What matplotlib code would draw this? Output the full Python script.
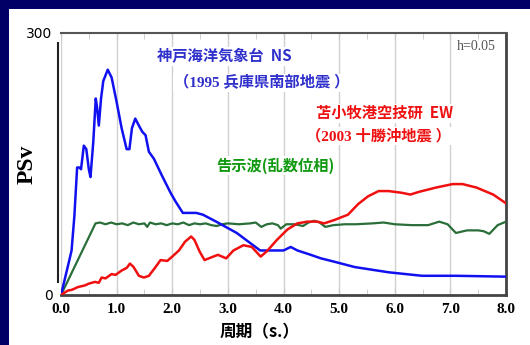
import matplotlib.pyplot as plt
from matplotlib.patches import Rectangle

# Kobe Marine Observatory NS (1995)
kobe_t = [0, 0.09, 0.15, 0.19, 0.24, 0.29, 0.33, 0.36, 0.41, 0.455, 0.50, 0.53, 0.58, 0.625,
          0.65, 0.68, 0.72, 0.76, 0.84, 0.91, 1.0, 1.09, 1.18, 1.23, 1.275, 1.335, 1.40, 1.46,
          1.52, 1.58, 1.67, 1.82, 1.97, 2.06, 2.19, 2.43, 2.55, 2.79, 3.16, 3.58, 3.76, 4.0,
          4.13, 4.25, 4.49, 4.67, 4.92, 5.28, 5.89, 6.49, 7.1, 8.0]
kobe_v = [0, 24, 40, 51, 90, 146, 146, 144, 171, 167, 144, 135, 175, 225,
          214, 194, 225, 245, 258, 249, 221, 191, 167, 167, 191, 202, 194, 187,
          183, 164, 156, 136, 117, 107, 94, 94, 92, 84, 71, 51, 51, 51,
          55, 51, 46, 42, 38, 32, 26, 22, 22, 21]

# Tomakomai EW (2003)
toma_t = [0, 0.12, 0.2, 0.3, 0.43, 0.5, 0.61, 0.68, 0.73, 0.8, 0.91, 0.98, 1.09, 1.18, 1.24,
          1.305, 1.40, 1.49, 1.58, 1.70, 1.79, 1.91, 2.0, 2.12, 2.23, 2.34, 2.40, 2.49,
          2.58, 2.70, 2.82, 2.97, 3.10, 3.28, 3.43, 3.59, 3.70, 3.88, 4.07, 4.25, 4.43,
          4.61, 4.73, 4.92, 5.16, 5.34, 5.52, 5.71, 5.89, 6.13, 6.28, 6.43, 6.74, 7.04,
          7.22, 7.47, 7.77, 8.0]
toma_v = [0, 5, 6, 9, 11, 13, 15, 14, 20, 19, 24, 23, 28, 31, 36,
          32, 22, 20, 22, 32, 40, 39, 44, 51, 61, 67, 63, 50,
          40, 43, 46, 42, 51, 57, 55, 44, 50, 63, 75, 82, 84,
          84, 82, 86, 92, 104, 113, 119, 119, 117, 115, 118, 123, 127,
          127, 123, 115, 105]

# Notification wave (random phase)
koji_t = [0, 0.62, 0.7, 0.8, 0.9, 1.0, 1.1, 1.2, 1.3, 1.4, 1.5, 1.55, 1.6, 1.7, 1.8, 1.9,
          2.0, 2.1, 2.2, 2.3, 2.4, 2.5, 2.6, 2.7, 2.8, 2.9, 3.0, 3.2, 3.4, 3.5, 3.6, 3.7,
          3.8, 3.9, 3.95, 4.05, 4.2, 4.35, 4.45, 4.55, 4.65, 4.75, 4.9, 5.1, 5.3, 5.6,
          5.8, 6.0, 6.3, 6.6, 6.8, 6.95, 7.1, 7.3, 7.5, 7.6, 7.7, 7.85, 8.0]
koji_v = [0, 82, 83, 81, 83, 81, 82, 80, 83, 81, 82, 78, 83, 81, 82, 80,
          82, 81, 83, 80, 82, 81, 82, 80, 79, 81, 82, 81, 82, 83, 78, 81,
          82, 80, 76, 81, 81, 79, 83, 85, 83, 78, 80, 81, 81, 82,
          83, 81, 80, 80, 84, 81, 71, 74, 74, 73, 70, 80, 84]

fig = plt.figure(figsize=(5.3, 3.45), dpi=100, facecolor='#000066')
fig.patches.append(Rectangle((9 / 530, 0), 1, 1 - 9 / 345, transform=fig.transFigure,
                             facecolor='white', edgecolor='none', zorder=-5))
ax = fig.add_axes([61 / 530, 50 / 345, 445 / 530, 262 / 345])
ax.set_facecolor('white')

ax.plot(kobe_t, kobe_v, color='#1010f0', lw=1.8, zorder=4)
ax.plot(toma_t, toma_v, color='#f01010', lw=1.8, zorder=4)
ax.plot(koji_t, koji_v, color='#2a6e3a', lw=1.6, zorder=3)

ax.set_xlim(0, 8)
ax.set_ylim(0, 300)
ax.set_xticks(range(9))
ax.set_xticklabels([f'{i}.0' for i in range(9)])
ax.set_xticks([i + 0.5 for i in range(8)], minor=True)
ax.set_yticks([0, 300])
ax.grid(True, axis='x', color='#d0d0d0', lw=1.0, zorder=1)

serif = {'family': 'Liberation Serif', 'weight': 'bold'}
for lab in ax.get_xticklabels() + ax.get_yticklabels():
    lab.set_fontfamily('Liberation Serif')
    lab.set_fontweight('bold')
    lab.set_fontsize(11)
ax.tick_params(axis='x', which='both', direction='in', top=True, color='#c8c8c8',
               length=4, pad=6)
ax.tick_params(axis='y', length=0, pad=4)

ax.spines['top'].set_color('#555555')
ax.spines['top'].set_linewidth(1.5)
for s in ('bottom', 'right'):
    ax.spines[s].set_color('#444444')
    ax.spines[s].set_linewidth(2)
ax.spines['left'].set_color('#222222')
ax.spines['left'].set_linewidth(1.5)
ax.spines['left'].set_bounds(15, 289)
ax.spines['left'].set_position(('outward', 2))

ax.set_ylabel('PSv', fontdict=serif, fontsize=17)
ax.yaxis.set_label_coords(-0.052, 0.5)
ax.set_xlabel('周期（s.）', family=['Noto Sans CJK JP'], weight='bold', fontsize=12)
ax.xaxis.set_label_coords(0.446, -0.11)

box = dict(facecolor='white', edgecolor='none', pad=1)
cjk = ['Noto Sans CJK JP', 'DejaVu Sans']
mixed = ['Liberation Serif', 'Noto Sans CJK JP']
ax.text(1.73, 273, '神戸海洋気象台  NS', color='#3030cc', family=cjk, weight='bold',
        fontsize=11, va='center', bbox=box, zorder=5)
ax.text(2.03, 243, '（1995 兵庫県南部地震 ）', color='#3030cc', family=mixed, weight='bold',
        fontsize=11, va='center', bbox=box, zorder=5)
ax.text(4.58, 208, '苫小牧港空技研  EW', color='#ee1111', family=cjk, weight='bold',
        fontsize=11, va='center', bbox=box, zorder=5)
ax.text(4.40, 182, '（2003 十勝沖地震 ）', color='#ee1111', family=mixed, weight='bold',
        fontsize=11, va='center', bbox=box, zorder=5)
ax.text(2.79, 148, '告示波(乱数位相)', color='#119911', family=cjk, weight='bold',
        fontsize=11, va='center', bbox=box, zorder=5)
ax.text(7.82, 284, 'h=0.05', color='#555555', family='Liberation Serif',
        fontsize=10, ha='right', va='center')

fig.savefig('out.png', dpi=100, facecolor=fig.get_facecolor())
